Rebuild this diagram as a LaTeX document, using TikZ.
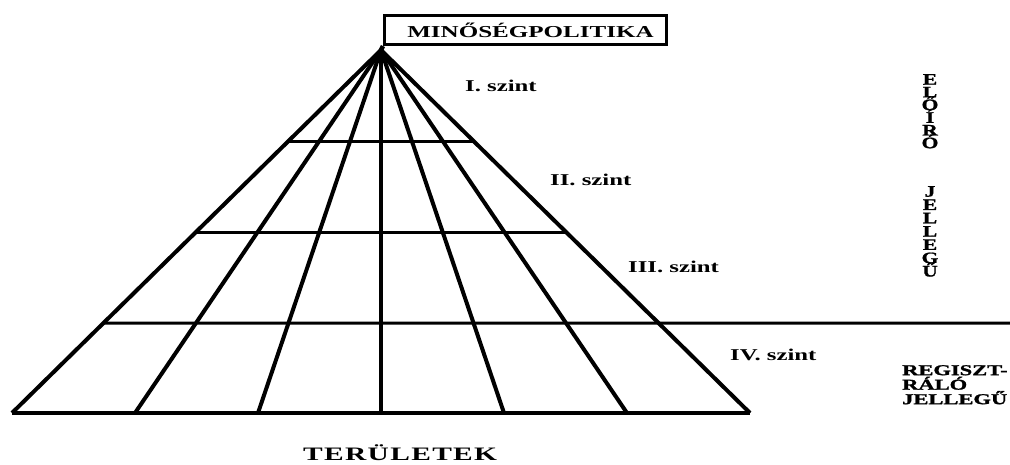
\documentclass[tikz,border=0pt]{standalone}
\usepackage{fontspec}
\usetikzlibrary{calc}
\newfontfamily\wbfam{Liberation Serif}[FakeStretch=1.5]
\newfontfamily\wvfam{Liberation Serif}[FakeStretch=1.35,FakeBold=1.2]
\newfontfamily\wrfam{Liberation Serif}[FakeStretch=1.5,FakeBold=1.5]
\newfontfamily\wtfam{Liberation Serif}[FakeStretch=1.55,LetterSpace=7]
\newcommand\tightlns{\lineskiplimit=-50pt\relax\lineskip=0pt\relax}
\tikzset{
  ray/.style={line width=4pt},
  level/.style={line width=3pt},
  lbl/.style={anchor=base west, inner sep=0pt, font=\wbfam\bfseries\fontsize{16.5}{18}\selectfont},
}
\begin{document}
\begin{tikzpicture}[x=1pt,y=-1pt]
\useasboundingbox (0,0) rectangle (1010,464);
% title box
\node[draw, line width=3pt, minimum width=282pt, minimum height=29pt, inner sep=0pt,
      anchor=north west, font=\wbfam\bfseries\fontsize{16.7}{18}\selectfont] (mp) at (383,14)
  {\hspace{10pt}MINŐSÉGPOLITIKA};
% geometry
\coordinate (apex) at (381,50);
\foreach \i in {0,...,6}{
  \coordinate (b\i) at ({12+123*\i},413);
}
\coordinate (r) at (1010,323);
% stem to the box
\draw[line width=4.5pt] (apex) -- (mp.south west);
% rays
\foreach \i in {0,...,6}{
  \draw[ray] (apex) -- (b\i);
}
% base
\draw[line width=4.5pt] (b0) -- (b6);
% level lines
\draw[level] ($(apex)!0.2534!(b0)$) coordinate (l1a) -- ($(apex)!0.2534!(b6)$) coordinate (l1b);
\draw[level] ($(apex)!0.5041!(b0)$) coordinate (l2a) -- ($(apex)!0.5041!(b6)$) coordinate (l2b);
\draw[level] ($(apex)!0.7521!(b0)$) coordinate (l3a) -- (r);
% level labels
\node[lbl] (s1) at (465,91) {I. szint};
\node[lbl] (s2) at (550,185) {II. szint};
\node[lbl] (s3) at (628,272) {III. szint};
\node[lbl] (s4) at (730,360) {IV. szint};
% right side vertical text
\node[anchor=north, inner sep=0pt, align=center,
      font=\wvfam\bfseries\fontsize{16}{12.7}\selectfont\tightlns] (eloiro) at (930,74)
  {E\\L\\Ő\\Í\\R\\Ó};
\node[anchor=north, inner sep=0pt, align=center,
      font=\wvfam\bfseries\fontsize{16}{13.3}\selectfont\tightlns] (jelleg) at (930,186)
  {J\\E\\L\\L\\E\\G\\Ű};
% bottom right text
\node[anchor=north west, inner sep=0pt, align=left,
      font=\wrfam\bfseries\fontsize{15}{14.5}\selectfont\tightlns] (reg) at (902,365)
  {REGISZT-\\RÁLÓ\\JELLEGŰ};
% bottom label
\node[anchor=base west, inner sep=0pt, font=\wtfam\bfseries\fontsize{19}{21}\selectfont] (ter) at (303,460) {TERÜLETEK};
\end{tikzpicture}
\end{document}
